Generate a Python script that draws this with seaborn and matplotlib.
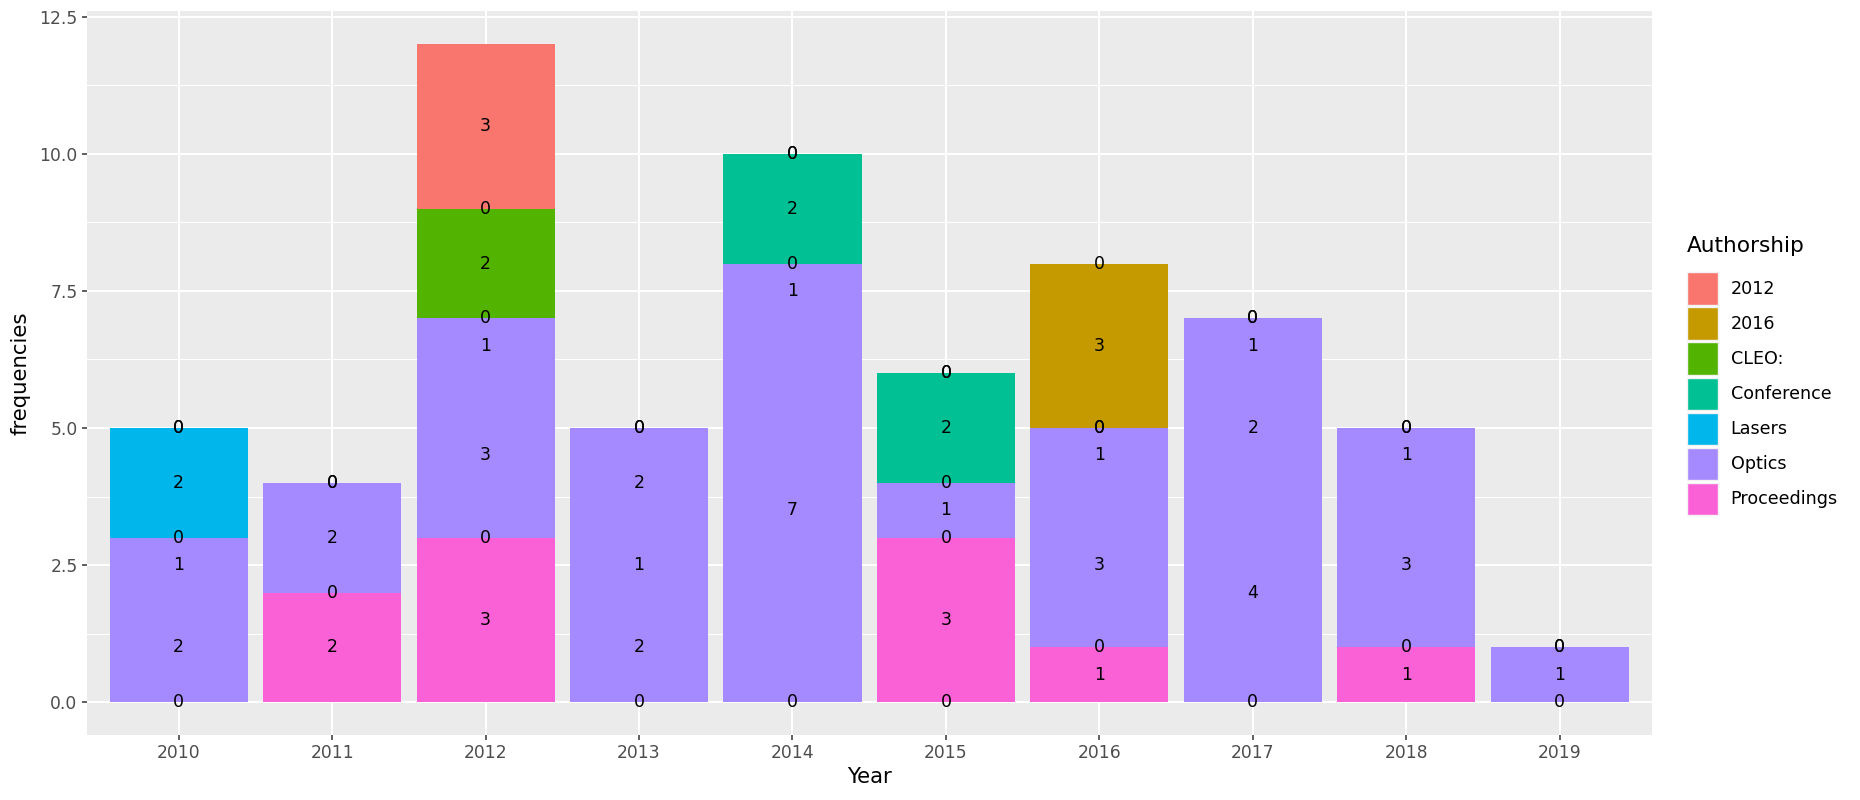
import matplotlib
matplotlib.use("Agg")
import matplotlib.pyplot as plt
from matplotlib.patches import Patch
from matplotlib.ticker import MultipleLocator, FormatStrFormatter
import numpy as np
import pandas as pd
import seaborn as sns

# ---- data ----
years = ["2010", "2011", "2012", "2013", "2014", "2015", "2016", "2017", "2018", "2019"]
categories = ["2012", "2016", "CLEO:", "Conference", "Lasers", "Optics", "Proceedings"]
colors = ["#F8766D", "#C49A00", "#53B400", "#00C094", "#00B6EB", "#A58AFF", "#FB61D7"]

# bar counts per category and year
proceedings = [0, 2, 3, 0, 0, 3, 1, 0, 1, 0]
optics      = [3, 2, 4, 5, 8, 1, 4, 7, 4, 1]
conference  = [0, 0, 0, 0, 2, 2, 0, 0, 0, 0]
lasers      = [2, 0, 0, 0, 0, 0, 0, 0, 0, 0]
cleo        = [0, 0, 2, 0, 0, 0, 0, 0, 0, 0]
cat_2016    = [0, 0, 0, 0, 0, 0, 3, 0, 0, 0]
cat_2012    = [0, 0, 3, 0, 0, 0, 0, 0, 0, 0]

# text labels per year, in stacking order (bottom to top)
labels = {
    "2010": [0, 2, 1, 0, 2, 0, 0],
    "2011": [2, 0, 2, 0, 0],
    "2012": [3, 0, 3, 1, 0, 2, 0, 3],
    "2013": [0, 2, 1, 2, 0, 0],
    "2014": [0, 7, 1, 0, 2, 0, 0],
    "2015": [0, 3, 0, 1, 0, 2, 0, 0],
    "2016": [1, 0, 3, 1, 0, 0, 3, 0],
    "2017": [0, 4, 2, 1, 0, 0],
    "2018": [1, 0, 3, 1, 0, 0],
    "2019": [0, 1, 0, 0],
}

# stacking order bottom -> top
stack = [
    ("Proceedings", proceedings),
    ("Optics", optics),
    ("Conference", conference),
    ("Lasers", lasers),
    ("CLEO:", cleo),
    ("2016", cat_2016),
    ("2012", cat_2012),
]
color_of = dict(zip(categories, colors))

fig = plt.figure(figsize=(18.6, 8), dpi=100)
ax = fig.add_axes([0.0466, 0.081, 0.8414, 0.905])
ax.set_facecolor("#EBEBEB")

cum = np.zeros(len(years))
layers = []
for name, vals in stack:
    cum = cum + np.array(vals)
    layers.append((name, cum.copy()))

# draw tallest layer first so lower layers paint over it
for name, heights in reversed(layers):
    df = pd.DataFrame({"Year": years, "n": heights})
    sns.barplot(data=df, x="Year", y="n", order=years, color=color_of[name],
                saturation=1, width=0.9, linewidth=0, ax=ax, zorder=2)

for i, yr in enumerate(years):
    vals = np.array(labels[yr], dtype=float)
    tops = np.cumsum(vals)
    pos = tops - vals / 2
    for v, p in zip(labels[yr], pos):
        ax.text(i, p, str(v), ha="center", va="center", fontsize=12.5,
                color="black", zorder=4)

ax.set_xlim(-0.6, len(years) - 0.4)
ax.set_ylim(-0.6, 12.6)
ax.yaxis.set_major_locator(MultipleLocator(2.5))
ax.yaxis.set_minor_locator(MultipleLocator(1.25))
ax.yaxis.set_major_formatter(FormatStrFormatter("%.1f"))
ax.grid(which="major", color="white", linewidth=1.5, zorder=0)
ax.grid(which="minor", axis="y", color="white", linewidth=0.75, zorder=0)
ax.set_axisbelow(True)
for s in ax.spines.values():
    s.set_visible(False)
ax.tick_params(axis="both", which="major", length=3.6, width=1.1, color="#333333",
               labelsize=12.3, labelcolor="#4D4D4D", pad=3)
ax.tick_params(axis="y", which="minor", length=0)
ax.set_xlabel("Year", fontsize=15.3, labelpad=3)
ax.set_ylabel("frequencies", fontsize=15.3, labelpad=6)

handles = [Patch(facecolor=c, edgecolor="#F2F2F2", linewidth=1.0, label=n)
           for n, c in zip(categories, colors)]
leg = fig.legend(handles=handles, title="Authorship", loc="center left",
                 bbox_to_anchor=(0.9032, 0.531), frameon=False, fontsize=12.6,
                 title_fontsize=15.6, handlelength=1.8, handleheight=2.44,
                 labelspacing=0.17, handletextpad=0.7, borderaxespad=0,
                 alignment="left")
leg._legend_box.sep = 12

fig.savefig("out.png", dpi=100, facecolor="white")
